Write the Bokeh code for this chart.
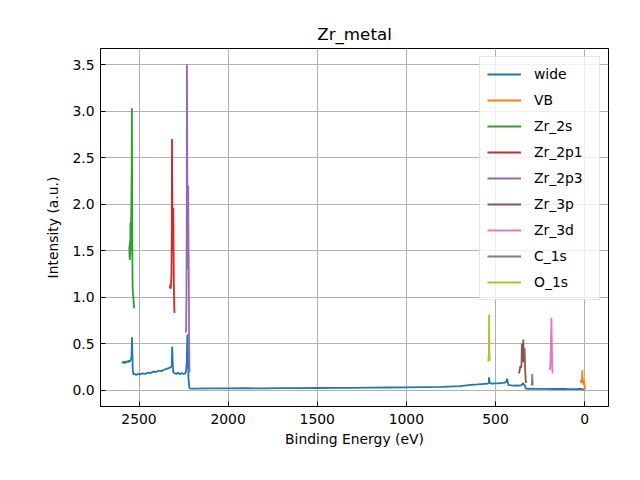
from bokeh.plotting import figure
from bokeh.models import Range1d, FixedTicker, Label
from bokeh.embed import file_html
from bokeh.resources import INLINE

# ---------------- data (binding energy eV, intensity counts) ----------------
wide_x = [2595, 2590, 2585, 2580, 2575, 2570, 2565, 2560, 2555, 2550, 2545, 2542,
          2539, 2537, 2535, 2532, 2525, 2515, 2505, 2495, 2480, 2465, 2450, 2435,
          2420, 2405, 2390, 2375, 2360, 2345, 2330, 2320, 2316, 2314, 2311, 2308,
          2300, 2290, 2280, 2270, 2260, 2250, 2240, 2236, 2232, 2229, 2226, 2222,
          2218, 2215, 2200, 2100, 2000, 1900, 1800, 1700, 1600, 1500, 1400, 1300,
          1200, 1100, 1000, 900, 800, 700, 650, 600, 560, 545, 538, 536, 533, 520,
          500, 480, 460, 450, 440, 435, 430, 426, 410, 400, 380, 360, 350, 345,
          340, 335, 330, 326, 310, 300, 290, 270, 250, 220, 200, 170, 150, 120,
          100, 70, 50, 30, 20, 10, 5, 0]
wide_y = [30500, 29500, 31000, 29000, 30500, 30000, 31500, 30000, 32000, 31000, 33500, 35000,
          57000, 40000, 22000, 17000, 17500, 16500, 17500, 17000, 18000, 17500, 19000, 18500,
          20000, 19500, 21000, 20500, 22000, 23000, 24000, 25000, 26000, 47000, 30000, 19500,
          18000, 17500, 19000, 17000, 18500, 17500, 18000, 21000, 30000, 60000, 40000, 12000,
          3000, 2000, 1800, 2000, 1900, 2100, 2000, 2300, 2200, 2400, 2500, 2600,
          2800, 2900, 3000, 3300, 3600, 4500, 5500, 6200, 6800, 7000, 8000, 14000, 7500, 7000,
          7300, 7500, 7800, 8000, 9000, 12500, 7500, 5500, 5200, 5000, 5100, 5000, 6000, 8000,
          6000, 5000, 2000, 1500, 1600, 1500, 1800, 1500, 1500, 1400, 1500, 1300, 1300, 1400,
          1300, 1200, 1200, 1300, 1300, 1000, 900, 800]

vb_x = [25, 22, 20, 18, 15, 13, 12, 10, 8, 5, 3, 1, -1, -3]
vb_y = [10000, 9000, 11000, 8000, 10000, 21500, 15000, 12000, 9000, 6000, 10000, 5000, 2000, 800]

zr2s_x = [2554, 2553, 2552, 2551, 2550, 2549, 2548, 2547, 2546, 2545, 2543, 2541,
          2540, 2539, 2538, 2537, 2536, 2534, 2532, 2530, 2528, 2527]
zr2s_y = [155000, 142000, 158000, 140000, 160000, 145000, 180000, 150000, 165000, 175000, 200000, 240000,
          303000, 250000, 180000, 140000, 112000, 105000, 100000, 95000, 90000, 88000]

zr2p1_x = [2328, 2326, 2324, 2322, 2320, 2318, 2316, 2315, 2314, 2312, 2310, 2308,
           2307, 2305, 2303, 2301]
zr2p1_y = [112000, 110000, 114000, 109000, 115000, 125000, 170000, 270000, 230000, 170000, 150000, 196000,
           180000, 120000, 95000, 83000]

zr2p3_x = [2238, 2236, 2234, 2232, 2231, 2230, 2228, 2226, 2224, 2223, 2221, 2219, 2217]
zr2p3_y = [62000, 65000, 100000, 200000, 350000, 300000, 150000, 130000, 220000, 180000, 130000, 60000, 19000]

zr3p_x = [368, 364, 360, 356, 354, 352, 350, 348, 346, 344, 342, 340, 337, 334, 331, 328]
zr3p_y = [18000, 22000, 26000, 24000, 28000, 50000, 35000, 30000, 40000, 54600, 42000, 30000,
          45000, 25000, 12000, 8000]

zr3d_x = [196, 194, 192, 190, 188, 186, 185, 184, 183, 182, 180, 178]
zr3d_y = [24000, 22000, 30000, 45000, 60000, 78000, 60000, 50000, 40000, 25000, 19000, 18000]

c1s_x = [298, 296, 294, 292, 290]
c1s_y = [5000, 7000, 17500, 9000, 5500]

o1s_x = [541, 540, 539, 538, 537, 536, 535, 534, 533, 531, 529]
o1s_y = [33000, 31000, 36000, 34000, 45000, 81500, 55000, 40000, 35000, 33000, 32000]

x_ticks = [0, 500, 1000, 1500, 2000, 2500]
y_ticks = [0, 50000, 100000, 150000, 200000, 250000, 300000, 350000]
y_tick_labels = ["0.0", "0.5", "1.0", "1.5", "2.0", "2.5", "3.0", "3.5"]

series = [
    ("wide", wide_x, wide_y, "#1f77b4"),
    ("VB", vb_x, vb_y, "#ff7f0e"),
    ("Zr_2s", zr2s_x, zr2s_y, "#2ca02c"),
    ("Zr_2p1", zr2p1_x, zr2p1_y, "#d62728"),
    ("Zr_2p3", zr2p3_x, zr2p3_y, "#9467bd"),
    ("Zr_3p", zr3p_x, zr3p_y, "#8c564b"),
    ("Zr_3d", zr3d_x, zr3d_y, "#e377c2"),
    ("C_1s", c1s_x, c1s_y, "#7f7f7f"),
    ("O_1s", o1s_x, o1s_y, "#bcbd22"),
]

FONT = "DejaVu Sans"
TICK_PX = "13.9px"

p = figure(width=632, height=472, output_backend="svg", toolbar_location=None,
           x_range=Range1d(2716, -134), y_range=Range1d(-17500, 367300),
           min_border_left=100, min_border_right=24, min_border_top=48, min_border_bottom=66,
           title="Zr_metal")

for name, xs, ys, col in series:
    p.line(xs, ys, line_color=col, line_width=1.8, legend_label=name)

p.title.align = "center"
p.title.text_font = FONT
p.title.text_font_size = "16.7px"
p.title.text_font_style = "normal"
p.title.text_color = "black"

p.outline_line_color = "black"
p.outline_line_alpha = 1
p.outline_line_width = 1

for ax in (p.xaxis[0], p.yaxis[0]):
    ax.major_tick_in = 5
    ax.major_tick_out = 0
    ax.minor_tick_in = 0
    ax.minor_tick_out = 0
    ax.axis_line_color = "black"
    ax.major_tick_line_color = "black"
    ax.major_label_text_font = FONT
    ax.major_label_text_font_size = TICK_PX
    ax.major_label_text_color = "black"
    ax.axis_label_text_font = FONT
    ax.axis_label_text_font_size = TICK_PX
    ax.axis_label_text_font_style = "normal"
    ax.axis_label_text_color = "black"

p.xaxis.ticker = FixedTicker(ticks=x_ticks)
p.yaxis.ticker = FixedTicker(ticks=y_ticks)
p.yaxis.major_label_overrides = {t: l for t, l in zip(y_ticks, y_tick_labels)}
p.xaxis.axis_label = "Binding Energy (eV)"
p.yaxis.axis_label = "Intensity (a.u.)"
p.xaxis.major_label_standoff = 7
p.yaxis.major_label_standoff = 6
p.xaxis.axis_label_standoff = 4
p.yaxis.axis_label_standoff = 8

p.xgrid.ticker = FixedTicker(ticks=x_ticks)
p.ygrid.ticker = FixedTicker(ticks=y_ticks)
p.grid.grid_line_color = "#b0b0b0"
p.grid.grid_line_width = 1

p.add_layout(Label(x=2716, y=367300, text="1e5", text_font=FONT, text_font_size=TICK_PX,
                   text_color="black", text_baseline="bottom", text_align="left", y_offset=3))

lg = p.legend[0]
lg.location = "top_right"
lg.margin = 8
lg.padding = 7
lg.spacing = 6
lg.glyph_width = 34
lg.glyph_height = 20
lg.label_height = 20
lg.label_width = 58
lg.label_standoff = 13
lg.label_text_font = FONT
lg.label_text_font_size = TICK_PX
lg.label_text_color = "black"
lg.border_line_color = "#cccccc"
lg.background_fill_alpha = 0.8

open("out.html", "w").write(file_html(p, INLINE))
